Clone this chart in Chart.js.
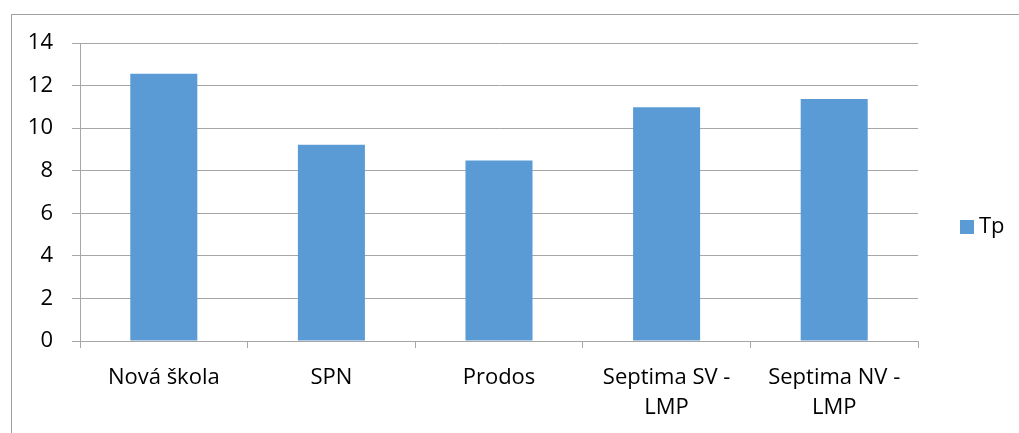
<!DOCTYPE html>
<html>
<head>
<meta charset="utf-8">
<script src="https://cdn.jsdelivr.net/npm/chart.js@4"></script>
<style>
  html, body { margin: 0; padding: 0; background: #fff; }
  #wrap { width: 1019px; height: 433px; }
</style>
</head>
<body>
<div id="wrap"><canvas id="chart" width="1019" height="433"></canvas></div>
<script>
// ---------------- DATA ----------------
const categories = ["Nová škola", "SPN", "Prodos", ["Septima SV -", "LMP"], ["Septima NV -", "LMP"]];
const seriesName = "Tp";
const tpValues = [12.56, 9.22, 8.48, 10.98, 11.37];
const yTicks = [0, 2, 4, 6, 8, 10, 12, 14];

const BAR_COLOR = "#5b9bd5";
const GRID_COLOR = "#a6a6a6";
const FONT = "'Open Sans', 'Liberation Sans', sans-serif";

// outer frame + legend on the right
const framePlugin = {
    id: "frame",
    afterDraw(chart) {
        const ctx = chart.ctx;
        ctx.save();
        ctx.strokeStyle = "#a0a0a0";
        ctx.lineWidth = 1;
        ctx.strokeRect(11.5, 14.5, 1020, 440);

        // legend entry
        const ds = chart.data.datasets[0];
        ctx.fillStyle = ds.backgroundColor;
        ctx.fillRect(960, 220, 14, 14);
        ctx.fillStyle = "#000";
        ctx.font = "22px " + FONT;
        ctx.textBaseline = "middle";
        ctx.fillText(ds.label, 979, 227);
        ctx.restore();
    }
};

new Chart(document.getElementById("chart"), {
    type: "bar",
    data: {
        labels: categories,
        datasets: [{
            label: seriesName,
            data: tpValues,
            backgroundColor: BAR_COLOR,
            categoryPercentage: 1,
            barPercentage: 0.4
        }]
    },
    options: {
        responsive: false,
        animation: false,
        layout: { padding: { left: 0, top: 43, right: 101, bottom: 0 } },
        plugins: {
            legend: { display: false },
            tooltip: { enabled: false }
        },
        scales: {
            x: {
                grid: {
                    offset: true,
                    drawOnChartArea: false,
                    drawTicks: true,
                    tickLength: 7,
                    color: GRID_COLOR
                },
                border: { color: GRID_COLOR },
                ticks: {
                    color: "#000",
                    font: { family: FONT, size: 22, lineHeight: 1.36 },
                    padding: 15,
                    maxRotation: 0,
                    autoSkip: false
                },
                afterFit(scale) { scale.height = 92; }
            },
            y: {
                min: 0,
                max: 14,
                afterBuildTicks(scale) {
                    scale.ticks = yTicks.map(v => ({ value: v }));
                },
                grid: {
                    color: GRID_COLOR,
                    drawTicks: true,
                    tickLength: 8
                },
                border: { color: GRID_COLOR },
                ticks: {
                    color: "#000",
                    font: { family: FONT, size: 22 },
                    padding: 19
                },
                afterFit(scale) { scale.width = 80; }
            }
        }
    },
    plugins: [framePlugin]
});
</script>
</body>
</html>
